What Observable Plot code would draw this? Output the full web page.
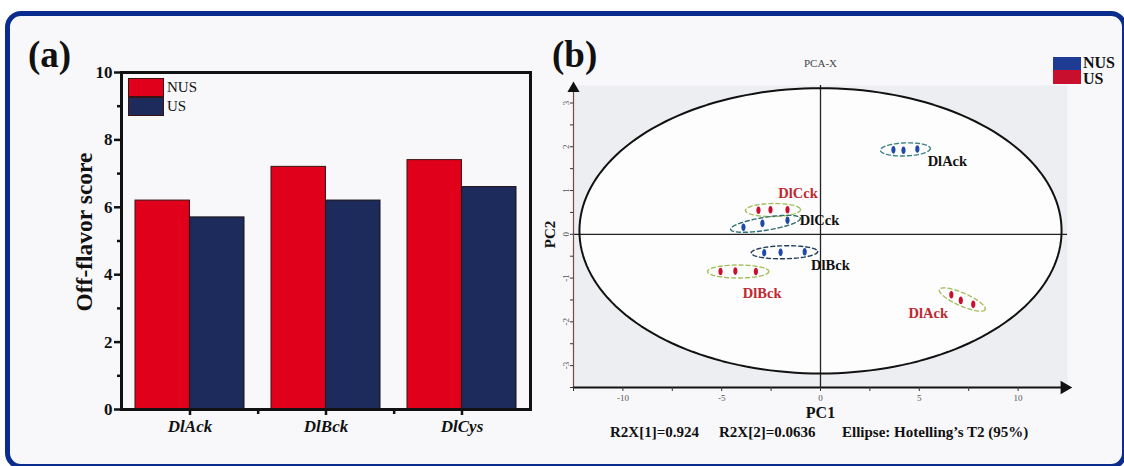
<!DOCTYPE html>
<html><head><meta charset="utf-8">
<script src="https://cdn.jsdelivr.net/npm/d3@7"></script>
<script src="https://cdn.jsdelivr.net/npm/@observablehq/plot@0.6"></script>
<style>
html,body{margin:0;padding:0;background:#fff;}
#wrap{position:relative;width:1124px;height:466px;overflow:hidden;background:#fff;font-family:"Liberation Serif","Times New Roman",serif;color:#111;}
#border{position:absolute;left:5px;top:11px;width:1112px;height:448px;border:5px solid #0b2c8f;border-radius:16px;background:#f8f8fa;}
.abs{position:absolute;white-space:pre;line-height:1;}
#panelA,#panelB{position:absolute;top:0;}
#panelA{left:0;} #panelB{left:540px;}
#panelA svg [aria-label="x-axis tick label"]{font-weight:bold;font-style:italic;}
#panelA svg [aria-label="y-axis tick label"]{font-weight:bold;}
.sw{position:absolute;box-sizing:border-box;}
</style></head>
<body>
<div id="wrap">
  <div id="border"></div>
  <div id="panelA"></div>
  <div id="panelB"></div>
  <div class="abs" style="left:28px;top:36px;font-size:37px;font-weight:bold;">(a)</div>
  <div class="abs" style="left:552px;top:36px;font-size:37px;font-weight:bold;">(b)</div>
  <div class="sw" style="left:128px;top:78px;width:36px;height:19px;background:#e0001b;border:1px solid #3a1212;"></div>
  <div class="sw" style="left:128px;top:97px;width:36px;height:19px;background:#1d2a5c;border:1px solid #3a1212;"></div>
  <div class="abs" id="legA1" style="left:167px;top:80px;font-size:15px;"></div>
  <div class="abs" id="legA2" style="left:167px;top:99px;font-size:15px;"></div>
  <div class="sw" style="left:1053px;top:57px;width:28px;height:13px;background:#1f3c94;"></div>
  <div class="sw" style="left:1053px;top:70px;width:28px;height:14px;background:#c8102e;"></div>
  <div class="abs" id="legB1" style="left:1083px;top:55px;font-size:16px;font-weight:bold;"></div>
  <div class="abs" id="legB2" style="left:1083px;top:71px;font-size:16px;font-weight:bold;"></div>
  <div class="abs" id="note1" style="left:610px;top:425px;font-size:15px;font-weight:bold;"></div>
  <div class="abs" id="note2" style="left:719px;top:425px;font-size:15px;font-weight:bold;"></div>
  <div class="abs" id="note3" style="left:842px;top:425px;font-size:15px;font-weight:bold;"></div>
</div>
<script>
// ---------------- DATA ----------------
const categories = ["DlAck", "DlBck", "DlCys"];
const seriesNames = ["NUS", "US"];
const nusScores = [6.2, 7.2, 7.4];
const usScores = [5.7, 6.2, 6.6];
const yTicksA = [0, 2, 4, 6, 8, 10];
const yMinorA = [1, 3, 5, 7, 9];

const pcaGroupSeries = ["NUS", "US", "US", "NUS", "NUS", "US"];
const pcaGroupSample = ["DlAck", "DlAck", "DlCck", "DlCck", "DlBck", "DlBck"];
const pcaPC1 = [
  [3.69, 4.20, 4.90],
  [6.62, 7.10, 7.73],
  [-3.14, -2.53, -1.67],
  [-3.90, -2.94, -1.67],
  [-2.85, -2.02, -0.80],
  [-5.06, -4.31, -3.27]
];
const pcaPC2 = [
  [1.93, 1.92, 1.95],
  [-1.38, -1.51, -1.60],
  [0.55, 0.56, 0.56],
  [0.16, 0.25, 0.32],
  [-0.42, -0.41, -0.40],
  [-0.85, -0.84, -0.85]
];
const t2Center = [0, 0.08];
const t2Radii = [12.2, 3.26];
const xTicksB = d3.range(-12.5, 12.5, 2.5);
const yTicksB = d3.range(-3.5, 3.4, 0.5);
const xDomB = [-12.5, 12.5];
const yDomB = [-3.5, 3.4];
const notesB = ["R2X[1]=0.924", "R2X[2]=0.0636", "Ellipse: Hotelling\u2019s T2 (95%)"];

// ---------------- STYLE ----------------
const RED_A = "#e0001b", NAVY_A = "#1d2a5c";
const BLUE_B = "#1f4aa8", RED_B = "#c8102e";
const serif = "Liberation Serif, Times New Roman, serif";
const groupStyle = [
  {ell: "#3b7f86", dx: 42, dy: 12},
  {ell: "#a6bf5e", dx: -34, dy: 14},
  {ell: "#a6bf5e", dx: 25, dy: -17},
  {ell: "#2f6f74", dx: 54, dy: -3},
  {ell: "#253a5a", dx: 46, dy: 13},
  {ell: "#a6bf5e", dx: 24, dy: 22}
];

document.getElementById("legA1").textContent = seriesNames[0];
document.getElementById("legA2").textContent = seriesNames[1];
document.getElementById("legB1").textContent = seriesNames[0];
document.getElementById("legB2").textContent = seriesNames[1];
document.getElementById("note1").textContent = notesB[0];
document.getElementById("note2").textContent = notesB[1];
document.getElementById("note3").textContent = notesB[2];

// ---------------- PANEL A ----------------
const W_A = 560, H_A = 466;
const mA = {top: 72, right: 30, bottom: 57, left: 121};
const stepA = (W_A - mA.left - mA.right) / categories.length;
const bwA = stepA * 0.8;
const rowsNUS = categories.map((c, i) => ({category: c, series: "NUS", value: nusScores[i]}));
const rowsUS = categories.map((c, i) => ({category: c, series: "US", value: usScores[i]}));

const plotA = Plot.plot({
  width: W_A, height: H_A,
  marginTop: mA.top, marginRight: mA.right, marginBottom: mA.bottom, marginLeft: mA.left,
  style: {background: "transparent", fontFamily: serif, color: "#111", overflow: "visible"},
  x: {domain: categories, paddingInner: 0.2, paddingOuter: 0.1, axis: null},
  y: {domain: [0, 10], axis: null},
  marks: [
    Plot.barY(rowsNUS, {x: "category", y: "value", fill: RED_A, stroke: "#3a1212", strokeWidth: 1, insetRight: bwA / 2}),
    Plot.barY(rowsUS, {x: "category", y: "value", fill: NAVY_A, stroke: "#1a1010", strokeWidth: 1, insetLeft: bwA / 2}),
    Plot.frame({stroke: "#111", strokeWidth: 3}),
    Plot.axisY({ticks: yTicksA, tickSize: 7, strokeWidth: 2.5, stroke: "#111", fontSize: 17, fontWeight: "bold", tickPadding: 2, label: null}),
    Plot.axisY({ticks: yMinorA, tickSize: 4, strokeWidth: 2.5, stroke: "#111", tickFormat: () => "", label: null}),
    Plot.axisX({tickSize: 6, strokeWidth: 2.5, stroke: "#111", fontSize: 17, fontWeight: "bold", fontStyle: "italic", tickPadding: 4, label: null}),
    Plot.axisX({ticks: categories.slice(0, -1), tickSize: 5, strokeWidth: 2.5, stroke: "#111", tickFormat: () => "", dx: stepA / 2, label: null}),
    Plot.text(["Off-flavor score"], {frameAnchor: "left", textAnchor: "middle", dx: -37, dy: -9, rotate: -90, fontSize: 23.5, fontWeight: "bold", fill: "#111"})
  ]
});
document.getElementById("panelA").appendChild(plotA);

// ---------------- PANEL B ----------------
const W_B = 584, H_B = 466;
const mB = {top: 85, right: 57, bottom: 79, left: 33};
const kx = (W_B - mB.left - mB.right) / (xDomB[1] - xDomB[0]);
const ky = (H_B - mB.top - mB.bottom) / (yDomB[1] - yDomB[0]);

const points = [];
pcaPC1.forEach((xs, g) => xs.forEach((x, j) => points.push({
  group: g, series: pcaGroupSeries[g], sample: pcaGroupSample[g], pc1: x, pc2: pcaPC2[g][j]
})));

const groupEllipses = [];
const groupLabels = [];
pcaPC1.forEach((xs, g) => {
  const ys = pcaPC2[g];
  const n = xs.length;
  const cx = (xs[0] + xs[n - 1]) / 2, cy = (ys[0] + ys[n - 1]) / 2;
  const dxp = (xs[n - 1] - xs[0]) * kx, dyp = -(ys[n - 1] - ys[0]) * ky;
  const L = Math.hypot(dxp, dyp), ux = dxp / L, uy = dyp / L;
  const a = L / 2 + 13, b = 6.5;
  d3.range(0, 361, 6).forEach(deg => {
    const t = deg * Math.PI / 180;
    const px = a * Math.cos(t) * ux - b * Math.sin(t) * uy;
    const py = a * Math.cos(t) * uy + b * Math.sin(t) * ux;
    groupEllipses.push({group: g, pc1: cx + px / kx, pc2: cy - py / ky});
  });
  groupLabels.push({group: g, text: pcaGroupSample[g], series: pcaGroupSeries[g], pc1: cx, pc2: cy,
    dx: groupStyle[g].dx, dy: groupStyle[g].dy});
});

const t2 = d3.range(0, 361, 2).map(deg => {
  const t = deg * Math.PI / 180;
  return {pc1: t2Center[0] + t2Radii[0] * Math.cos(t), pc2: t2Center[1] + t2Radii[1] * Math.sin(t)};
});

const tallEllipse = {
  draw(ctx, size) {
    const r = Math.sqrt(size / Math.PI), a = r * 0.55, b = r, k = 0.5523;
    ctx.moveTo(0, -b);
    ctx.bezierCurveTo(a * k, -b, a, -b * k, a, 0);
    ctx.bezierCurveTo(a, b * k, a * k, b, 0, b);
    ctx.bezierCurveTo(-a * k, b, -a, b * k, -a, 0);
    ctx.bezierCurveTo(-a, -b * k, -a * k, -b, 0, -b);
    ctx.closePath();
  }
};

const plotB = Plot.plot({
  width: W_B, height: H_B,
  marginTop: mB.top, marginRight: mB.right, marginBottom: mB.bottom, marginLeft: mB.left,
  style: {background: "transparent", fontFamily: serif, color: "#111", overflow: "visible"},
  x: {domain: xDomB, axis: null},
  y: {domain: yDomB, axis: null},
  marks: [
    Plot.frame({fill: "#eceef1", stroke: "none"}),
    Plot.line(t2, {x: "pc1", y: "pc2", fill: "#fdfdfe", stroke: "none"}),
    Plot.ruleY([0], {stroke: "#222", strokeWidth: 1.3}),
    Plot.ruleX([0], {stroke: "#222", strokeWidth: 1.3}),
    Plot.line(t2, {x: "pc1", y: "pc2", stroke: "#111", strokeWidth: 2}),
    Plot.ruleX([xDomB[0]], {stroke: "#7a4a40", strokeWidth: 1.2}),
    Plot.ruleY([yDomB[0]], {stroke: "#111", strokeWidth: 2.2}),
    Plot.dot([{x: xDomB[1], y: yDomB[0]}], {x: "x", y: "y", symbol: "triangle", rotate: 90, r: 5, fill: "#111", stroke: "none", dx: -3}),
    Plot.dot([{x: xDomB[0], y: yDomB[1]}], {x: "x", y: "y", symbol: "triangle", r: 4.5, fill: "#111", stroke: "none", dy: 3}),
    Plot.axisX({ticks: xTicksB, tickSize: 4, tickPadding: 3, fontSize: 9, fill: "#555", stroke: "#333",
      tickFormat: d => (d % 5 === 0 ? d : ""), label: null}),
    Plot.axisY({ticks: yTicksB, tickSize: 3, tickPadding: 2, fontSize: 9, fill: "#555", stroke: "#333", tickRotate: -90,
      tickFormat: d => (Number.isInteger(d) ? d : ""), label: null}),
    Plot.line(groupEllipses, {x: "pc1", y: "pc2", z: "group", stroke: d => groupStyle[d.group].ell,
      strokeWidth: 1.4, strokeDasharray: "4,3"}),
    Plot.dot(points, {x: "pc1", y: "pc2", symbol: tallEllipse, r: 3.8,
      fill: d => (d.series === "NUS" ? BLUE_B : RED_B), stroke: "none"}),
    ...groupLabels.map(l => Plot.text([l], {x: "pc1", y: "pc2", text: "text", dx: l.dx, dy: l.dy,
      fontSize: 14.5, fontWeight: "bold", fill: l.series === "NUS" ? "#111" : "#c0282e"})),
    Plot.text(["PCA-X"], {frameAnchor: "top", dy: -26, fontSize: 11, fill: "#444"}),
    Plot.text(["PC1"], {frameAnchor: "bottom", dy: 30, fontSize: 16, fontWeight: "bold", fill: "#111"}),
    Plot.text(["PC2"], {frameAnchor: "left", textAnchor: "middle", dx: -23, dy: -2, rotate: -90, fontSize: 15, fontWeight: "bold", fill: "#111"})
  ]
});
document.getElementById("panelB").appendChild(plotB);
</script>
</body></html>
